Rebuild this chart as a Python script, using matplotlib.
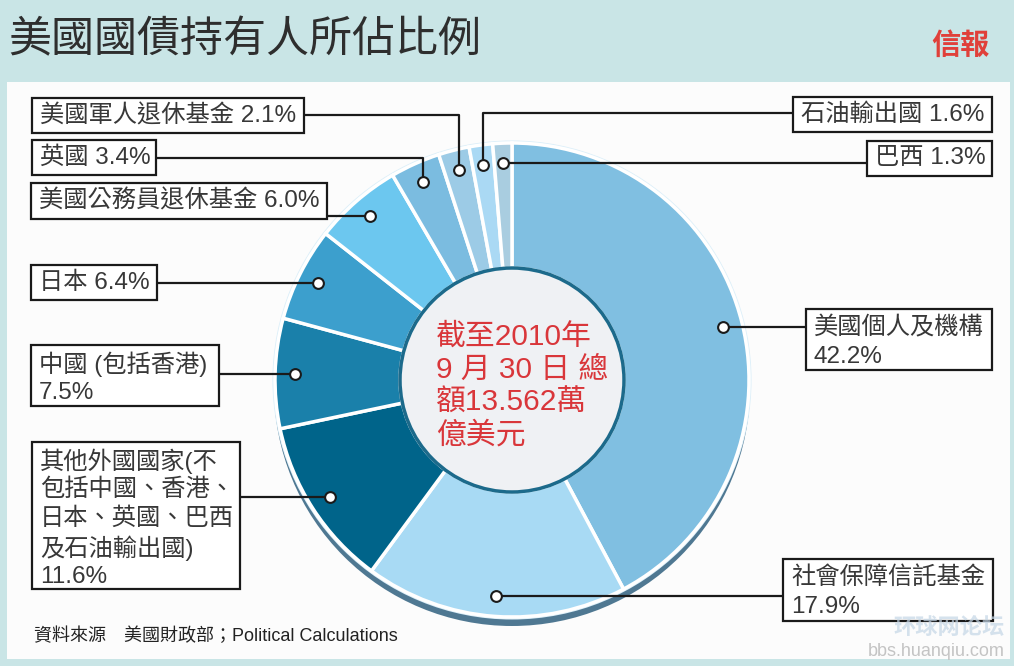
import numpy as np
import matplotlib
matplotlib.use("Agg")
import matplotlib.pyplot as plt
from matplotlib.patches import Rectangle, Circle

plt.rcParams['font.family'] = ['Liberation Sans', 'Noto Sans CJK TC']

# 數據（順時針，由12點鐘開始）
持有人 = ["美國個人及機構", "社會保障信託基金", "其他外國國家", "中國", "日本",
        "美國公務員退休基金", "英國", "美國軍人退休基金", "石油輸出國", "巴西"]
比例 = [42.2, 17.9, 11.6, 7.5, 6.4, 6.0, 3.4, 2.1, 1.6, 1.3]
標籤文字 = [
    ["美國個人及機構", "42.2%"],
    ["社會保障信託基金", "17.9%"],
    ["其他外國國家(不", "包括中國、香港、", "日本、英國、巴西", "及石油輸出國)", "11.6%"],
    ["中國 (包括香港)", "7.5%"],
    ["日本 6.4%"],
    ["美國公務員退休基金 6.0%"],
    ["英國 3.4%"],
    ["美國軍人退休基金 2.1%"],
    ["石油輸出國 1.6%"],
    ["巴西 1.3%"],
]
顏色 = ["#80bfe1", "#a8daf4", "#00648a", "#1a80aa", "#3c9fcd",
      "#6cc7ef", "#7bbce0", "#9ccbe6", "#aad9f4", "#a9cde0"]
中心文字 = ["截至2010年", "9 月 30 日 總", "額13.562萬", "億美元"]

# 版面（像素座標）
cx, cy = 512, 380
r_out, r_in = 237, 112
r_dot = 217
# 標籤框: 左, 上, 右, 下, 折線y (None = 直線)
框 = [
    (806, 309, 992, 370, None),
    (783, 559, 993, 621, None),
    (32, 442, 240, 589, None),
    (31, 345, 219, 406, None),
    (31, 265, 157, 300, None),
    (31, 183, 327, 219, None),
    (32, 140, 156, 175, 158),
    (32, 98, 304, 133, 115),
    (793, 97, 992, 132, 113),
    (867, 141, 992, 176, None),
]

fig = plt.figure(figsize=(10.14, 6.66), dpi=100)
fig.patch.set_facecolor("#c9e5e6")
ax = fig.add_axes([0, 0, 1, 1])

# 白色底板
ax.add_patch(Rectangle((7, 82), 1003, 577, facecolor="#fcfcfc", edgecolor="none", zorder=0))

# 陰影
ax.add_patch(Circle((cx, cy + 8), r_out + 1, facecolor="#4f7892", edgecolor="none", zorder=1))
ax.add_patch(Circle((cx, cy), r_out + 1.5, facecolor="none", edgecolor="#dceff9", linewidth=1.5, zorder=1.5))

wedges, _ = ax.pie(比例, colors=顏色, startangle=270, counterclock=True,
                   center=(cx, cy), radius=r_out,
                   wedgeprops=dict(width=r_out - r_in, edgecolor="white", linewidth=2.5))
for w in wedges:
    w.set_zorder(2)

# 中心圓
ax.add_patch(Circle((cx, cy), r_in, facecolor="#eff1f4", edgecolor="#1c6a8b", linewidth=2.5, zorder=3))
for i, line in enumerate(中心文字):
    ax.text(436, 337 + i * 33, line, fontsize=21.5, color="#d9363a", ha="left", va="center", zorder=4)

# 引線與標籤
vals = np.array(比例)
mid = 360 * (np.cumsum(vals) - vals / 2) / vals.sum()
dx = cx + r_dot * np.sin(np.radians(mid))
dy = cy - r_dot * np.cos(np.radians(mid))

for i in range(len(比例)):
    l, t, r, b, elbow = 框[i]
    edge_x = r if r < cx else l
    if elbow is None:
        ax.plot([dx[i], edge_x], [dy[i], dy[i]], color="#1a1a1a", lw=1.6, zorder=5)
    else:
        ax.plot([dx[i], dx[i], edge_x], [dy[i], elbow, elbow], color="#1a1a1a", lw=1.6, zorder=5)
    ax.add_patch(Rectangle((l, t), r - l, b - t, facecolor="white", edgecolor="#1a1a1a",
                           linewidth=1.6, zorder=6))
    lines = 標籤文字[i]
    if len(lines) == 1:
        ax.text(l + 8, (t + b) / 2, lines[0], fontsize=17.5, color="#383838",
                ha="left", va="center", zorder=7)
    else:
        for j, s in enumerate(lines):
            ax.text(l + 8, t + 19 + j * 29, s, fontsize=17.5, color="#383838",
                    ha="left", va="center", zorder=7)

ax.scatter(dx, dy, s=60, facecolor="white", edgecolor="#1a1a1a", linewidth=1.5, zorder=8)

# 標題、來源
ax.text(8, 40, "美國國債持有人所佔比例", fontsize=31, color="#2e2e2e",
        family="Noto Sans CJK TC", ha="left", va="center")
ax.text(990, 45, "信報", fontsize=21, color="#e0403a", fontweight="bold",
        family="Noto Sans CJK TC", ha="right", va="center")
ax.text(34, 636, "資料來源　美國財政部；Political Calculations", fontsize=13,
        color="#222222", ha="left", va="center")

# 水印
ax.text(1005, 628, "环球网论坛", fontsize=16, color="#c4d6e6", alpha=0.7,
        family="Noto Sans CJK SC", fontweight="bold", ha="right", va="center", zorder=9)
ax.text(1005, 652, "bbs.huanqiu.com", fontsize=13, color="#c4c4c4",
        ha="right", va="center", zorder=9)

ax.set_xlim(0, 1014)
ax.set_ylim(666, 0)
ax.set_aspect("auto")
ax.axis("off")

fig.savefig("out.png", dpi=100, facecolor=fig.get_facecolor())
